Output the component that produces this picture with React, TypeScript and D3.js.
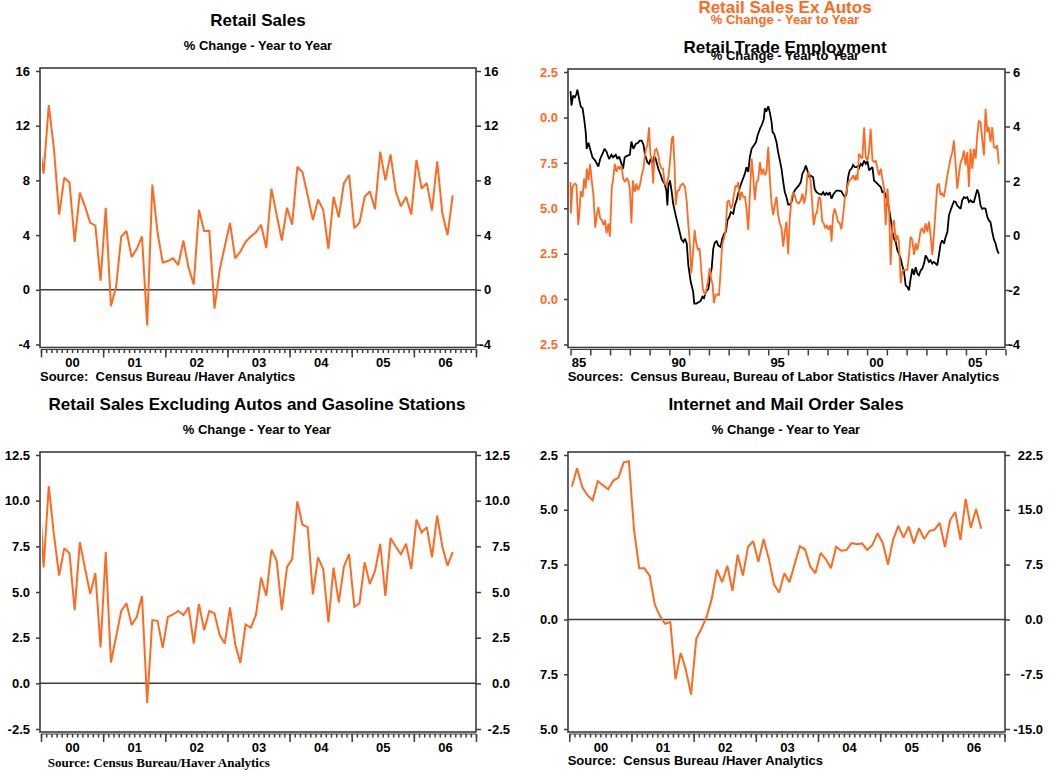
import React, { useEffect, useRef } from "react";
import * as d3 from "d3";

const ORANGE = "#ff6a21";
const AXIS = "#3c3c3c";
const SANS = "'Liberation Sans', Arial, Helvetica, sans-serif";
const SERIF = "'Liberation Serif', 'Times New Roman', serif";

// monthly % change y/y; first value is Dec 1999 (cut off by the frame), then Jan 2000 .. Aug 2006
const retailSales = [
  11.3, 8.5, 13.5, 10.3, 5.5, 8.2, 7.85, 3.5, 7.1, 6.1, 4.9,
  4.7, 0.66, 6.0, -1.2, 0.2, 3.9, 4.3, 2.4, 3.0, 3.9,
  -2.6, 7.7, 4.2, 2.0, 2.1, 2.3, 1.8, 3.6, 1.6, 0.4,
  5.85, 4.3, 4.3, -1.37, 1.46, 3.2, 4.9, 2.3, 2.8, 3.5,
  3.9, 4.2, 4.76, 3.05, 7.4, 5.5, 3.6, 6.0, 4.76, 9.0,
  8.6, 6.9, 5.1, 6.6, 5.85, 3.0, 6.8, 5.3, 7.8, 8.4,
  4.5, 4.9, 6.8, 7.2, 5.9, 10.1, 8.0, 9.9, 7.2, 6.1,
  6.8, 5.5, 9.5, 7.4, 7.8, 5.8, 9.4, 5.6, 4.0, 6.9,
];

const retailExAutosGas = [
  11.5, 6.34, 10.8, 8.13, 5.9, 7.4, 7.12, 4.0, 7.73, 6.3, 4.9,
  6.03, 1.96, 7.18, 1.14, 2.55, 3.96, 4.38, 3.19, 3.64, 4.78,
  -1.08, 3.46, 3.42, 1.94, 3.64, 3.77, 3.96, 3.74, 4.16, 2.18,
  4.34, 2.91, 3.96, 3.83, 2.64, 2.18, 4.16, 2.14, 1.12, 3.22,
  3.04, 3.74, 5.79, 4.8, 7.31, 6.72, 4.01, 6.36, 6.8, 9.96,
  8.68, 8.55, 4.87, 6.9, 6.25, 3.33, 6.34, 4.43, 6.39, 7.07,
  4.19, 4.38, 6.63, 5.44, 6.15, 7.64, 4.78, 7.95, 7.49, 7.07,
  7.64, 6.26, 8.96, 8.26, 8.55, 6.9, 9.18, 7.49, 6.45, 7.18,
];

// Jan 2000 .. Aug 2006
const internetMailOrder = [
  18.2, 20.7, 18.1, 17.0, 16.3, 18.9, 18.35, 17.8, 19.0, 19.4,
  21.5, 21.65, 12.2, 7.0, 7.0, 6.0, 2.06, 0.46, -0.6, -0.37,
  -8.2, -4.6, -6.9, -10.3, -2.66, -1.28, 0.37, 2.84, 6.8, 5.1,
  7.34, 3.9, 8.85, 6.0, 9.95, 10.7, 7.9, 11.0, 8.35, 4.8,
  3.67, 6.3, 5.1, 7.57, 10.0, 9.6, 7.25, 6.3, 9.1, 8.26,
  7.0, 9.95, 9.4, 9.5, 10.46, 10.3, 10.4, 9.5, 10.2, 11.8,
  10.46, 7.5, 10.9, 12.8, 11.2, 12.7, 10.4, 12.5, 11.0, 12.1,
  12.3, 13.2, 9.95, 13.6, 14.7, 10.9, 16.5, 12.5, 15.1, 12.4,
];

// [year, % change y/y]
const retailTradeEmployment: [number, number][] = [
  [1985.0, 5.3], [1985.05, 4.77], [1985.13, 5.13], [1985.22, 5.07], [1985.3, 5.19], [1985.35, 5.35],
  [1985.44, 5.0], [1985.52, 4.73], [1985.61, 4.67], [1985.69, 4.28], [1985.77, 3.79], [1985.82, 3.18],
  [1985.91, 3.4], [1985.99, 3.18], [1986.11, 2.87], [1986.25, 2.75], [1986.41, 2.53], [1986.5, 2.81],
  [1986.62, 3.0], [1986.72, 3.18], [1986.82, 3.08], [1986.95, 2.81], [1987.07, 2.96], [1987.15, 2.87],
  [1987.29, 2.96], [1987.37, 2.81], [1987.46, 2.9], [1987.54, 2.72], [1987.66, 2.45], [1987.74, 2.87],
  [1987.88, 2.93], [1988.0, 2.96], [1988.08, 3.45], [1988.18, 3.18], [1988.3, 3.36], [1988.42, 3.4],
  [1988.5, 3.48], [1988.6, 3.48], [1988.69, 3.33], [1988.77, 2.96], [1988.89, 2.69], [1988.97, 2.63],
  [1989.06, 2.81], [1989.14, 2.63], [1989.23, 2.9], [1989.31, 2.81], [1989.44, 2.45], [1989.56, 2.23],
  [1989.65, 2.02], [1989.76, 1.9], [1989.85, 1.65], [1989.9, 1.1], [1989.95, 1.84], [1990.03, 2.02],
  [1990.12, 1.6], [1990.19, 1.17], [1990.32, 0.74], [1990.44, 0.37], [1990.52, 0.13], [1990.61, -0.14],
  [1990.71, -0.24], [1990.79, -0.11], [1990.88, -0.3], [1990.96, -1.1], [1991.08, -1.7], [1991.2, -2.05],
  [1991.26, -2.5], [1991.36, -2.5], [1991.5, -2.44], [1991.58, -2.4], [1991.67, -2.25], [1991.75, -2.3],
  [1991.84, -2.07], [1991.97, -1.97], [1992.09, -1.34], [1992.14, -1.22], [1992.22, -0.48], [1992.3, -0.26],
  [1992.39, -0.21], [1992.47, -0.36], [1992.59, -0.42], [1992.67, -0.13], [1992.78, 0.07], [1992.86, 0.13],
  [1992.94, 0.56], [1993.03, 0.68], [1993.11, 0.86], [1993.23, 0.8], [1993.31, 1.1], [1993.4, 1.29],
  [1993.48, 1.53], [1993.57, 1.78], [1993.69, 2.02], [1993.82, 2.27], [1993.9, 2.51], [1993.99, 2.33],
  [1994.07, 2.88], [1994.16, 3.18], [1994.27, 3.3], [1994.38, 3.42], [1994.46, 3.67], [1994.58, 3.91],
  [1994.7, 4.1], [1994.78, 4.28], [1994.83, 4.67], [1994.91, 4.55], [1995.0, 4.74], [1995.08, 4.52],
  [1995.17, 4.16], [1995.22, 3.79], [1995.3, 3.73], [1995.42, 3.42], [1995.5, 3.06], [1995.59, 2.75],
  [1995.67, 2.45], [1995.76, 1.96], [1995.84, 1.59], [1995.92, 1.41], [1996.01, 1.13], [1996.09, 1.13],
  [1996.18, 1.23], [1996.26, 1.53], [1996.34, 1.65], [1996.43, 1.74], [1996.55, 1.84], [1996.65, 1.96],
  [1996.73, 2.27], [1996.82, 2.39], [1996.9, 2.57], [1996.98, 2.39], [1997.07, 2.14], [1997.15, 2.2],
  [1997.27, 2.14], [1997.35, 1.71], [1997.44, 1.59], [1997.56, 1.53], [1997.69, 1.5], [1997.78, 1.59],
  [1997.86, 1.47], [1997.94, 1.56], [1998.03, 1.5], [1998.11, 1.59], [1998.2, 1.35], [1998.31, 1.53],
  [1998.45, 1.65], [1998.57, 1.65], [1998.7, 1.62], [1998.79, 1.5], [1998.87, 1.41], [1998.95, 1.5],
  [1999.04, 2.14], [1999.12, 2.39], [1999.21, 2.45], [1999.29, 2.59], [1999.38, 2.51], [1999.46, 2.51],
  [1999.51, 2.54], [1999.59, 2.47], [1999.68, 2.63], [1999.76, 2.57], [1999.85, 2.75], [1999.93, 2.63],
  [2000.02, 2.72], [2000.1, 2.39], [2000.18, 2.45], [2000.27, 2.51], [2000.35, 2.02], [2000.44, 1.96],
  [2000.52, 1.9], [2000.6, 1.84], [2000.69, 1.78], [2000.77, 1.59], [2000.86, 1.62], [2000.94, 1.47],
  [2001.03, 1.23], [2001.11, 1.0], [2001.19, 0.61], [2001.28, 0.13], [2001.36, -0.12], [2001.45, -0.24],
  [2001.53, -0.54], [2001.61, -0.67], [2001.7, -0.85], [2001.78, -1.1], [2001.87, -1.34], [2001.95, -1.83],
  [2002.04, -1.89], [2002.12, -2.01], [2002.2, -1.59], [2002.29, -1.22], [2002.37, -1.44], [2002.46, -1.16],
  [2002.54, -1.4], [2002.62, -1.46], [2002.71, -1.28], [2002.79, -1.22], [2002.88, -1.03], [2002.96, -0.73],
  [2003.05, -0.85], [2003.13, -0.97], [2003.21, -0.91], [2003.3, -1.03], [2003.38, -0.97], [2003.47, -1.03],
  [2003.55, -1.1], [2003.63, -0.73], [2003.72, -0.3], [2003.8, -0.18], [2003.89, -0.3], [2003.97, -0.06],
  [2004.06, 0.13], [2004.14, 0.74], [2004.22, 0.92], [2004.31, 1.1], [2004.39, 1.25], [2004.48, 1.23],
  [2004.56, 1.1], [2004.64, 1.04], [2004.73, 0.98], [2004.81, 1.29], [2004.9, 1.41], [2004.98, 1.37],
  [2005.07, 1.41], [2005.15, 1.23], [2005.23, 1.29], [2005.32, 1.23], [2005.4, 1.23], [2005.49, 1.47],
  [2005.57, 1.69], [2005.65, 1.53], [2005.74, 1.1], [2005.82, 0.98], [2005.91, 1.0], [2005.99, 0.98],
  [2006.08, 0.68], [2006.16, 0.56], [2006.24, 0.49], [2006.33, 0.13], [2006.41, -0.14], [2006.5, -0.3],
  [2006.58, -0.54], [2006.66, -0.67],
];

const retailSalesExAutos: [number, number][] = [
  [1985.0, 6.45], [1985.02, 4.71], [1985.1, 6.17], [1985.22, 6.36], [1985.3, 6.3], [1985.39, 4.07],
  [1985.44, 4.62], [1985.52, 5.94], [1985.61, 5.63], [1985.69, 6.63], [1985.77, 6.08], [1985.82, 7.18],
  [1985.91, 6.54], [1985.99, 7.45], [1986.08, 6.45], [1986.16, 5.72], [1986.25, 3.93], [1986.33, 4.62],
  [1986.41, 5.08], [1986.5, 4.44], [1986.58, 4.35], [1986.67, 4.07], [1986.75, 4.35], [1986.82, 3.62],
  [1986.92, 4.16], [1986.99, 3.43], [1987.09, 6.17], [1987.15, 6.54], [1987.24, 7.45], [1987.32, 7.0],
  [1987.41, 7.27], [1987.49, 7.18], [1987.58, 7.36], [1987.66, 6.63], [1987.76, 6.45], [1987.85, 6.67],
  [1987.93, 6.48], [1988.0, 6.08], [1988.08, 4.16], [1988.16, 6.54], [1988.25, 5.9], [1988.33, 6.36],
  [1988.42, 5.99], [1988.5, 6.23], [1988.6, 6.81], [1988.69, 7.18], [1988.75, 7.82], [1988.82, 8.27],
  [1988.89, 8.46], [1988.97, 9.46], [1989.04, 7.95], [1989.11, 7.73], [1989.18, 6.36], [1989.26, 8.18],
  [1989.34, 8.27], [1989.43, 8.0], [1989.51, 7.45], [1989.6, 7.18], [1989.68, 7.18], [1989.76, 6.36],
  [1989.85, 6.26], [1989.95, 6.72], [1990.03, 7.54], [1990.12, 8.82], [1990.19, 8.97], [1990.27, 7.18],
  [1990.32, 5.17], [1990.4, 5.94], [1990.49, 5.99], [1990.57, 6.26], [1990.69, 6.36], [1990.79, 6.17],
  [1990.88, 5.35], [1990.96, 4.07], [1991.03, 3.16], [1991.11, 1.42], [1991.2, 2.61], [1991.28, 3.8],
  [1991.36, 3.07], [1991.45, 2.7], [1991.53, 2.79], [1991.62, 1.52], [1991.7, 0.51], [1991.8, 0.24],
  [1991.87, 0.51], [1991.95, 0.97], [1992.04, 1.7], [1992.12, 1.06], [1992.19, 0.79], [1992.25, -0.22],
  [1992.34, 0.24], [1992.42, 0.27], [1992.51, 0.2], [1992.59, 1.52], [1992.67, 2.98], [1992.76, 3.34],
  [1992.84, 3.71], [1992.93, 5.35], [1993.01, 5.44], [1993.1, 4.99], [1993.18, 5.13], [1993.26, 5.72],
  [1993.35, 6.26], [1993.43, 6.17], [1993.48, 6.45], [1993.57, 5.44], [1993.65, 5.9], [1993.74, 5.63],
  [1993.82, 5.63], [1993.9, 4.99], [1993.99, 3.8], [1994.07, 5.72], [1994.16, 7.73], [1994.24, 6.81],
  [1994.32, 5.44], [1994.41, 6.45], [1994.49, 6.54], [1994.58, 7.54], [1994.66, 6.85], [1994.75, 7.18],
  [1994.83, 6.81], [1994.91, 7.0], [1995.0, 8.37], [1995.08, 6.63], [1995.17, 5.26], [1995.25, 4.62],
  [1995.33, 5.17], [1995.42, 5.63], [1995.5, 4.62], [1995.59, 4.16], [1995.67, 3.93], [1995.76, 2.89],
  [1995.84, 3.71], [1995.92, 4.26], [1996.01, 2.47], [1996.09, 4.44], [1996.18, 5.53], [1996.26, 5.9],
  [1996.34, 5.72], [1996.43, 5.35], [1996.55, 5.26], [1996.65, 5.44], [1996.73, 5.81], [1996.82, 5.26],
  [1996.9, 5.72], [1996.98, 6.81], [1997.05, 7.0], [1997.14, 6.54], [1997.22, 5.35], [1997.3, 4.07],
  [1997.39, 4.62], [1997.47, 4.8], [1997.56, 5.63], [1997.64, 5.53], [1997.73, 4.26], [1997.81, 4.16],
  [1997.89, 3.89], [1997.98, 4.07], [1998.06, 3.8], [1998.15, 4.07], [1998.2, 3.16], [1998.28, 4.62],
  [1998.36, 4.99], [1998.45, 4.62], [1998.53, 4.26], [1998.62, 4.16], [1998.7, 3.85], [1998.79, 4.62],
  [1998.87, 5.53], [1998.95, 5.9], [1999.04, 6.36], [1999.12, 6.54], [1999.21, 6.63], [1999.29, 6.81],
  [1999.38, 6.54], [1999.46, 6.85], [1999.51, 6.54], [1999.59, 8.0], [1999.68, 7.82], [1999.76, 7.73],
  [1999.85, 9.46], [1999.93, 7.82], [2000.02, 7.63], [2000.1, 8.18], [2000.18, 9.37], [2000.27, 7.63],
  [2000.35, 7.54], [2000.44, 7.63], [2000.52, 7.18], [2000.6, 6.81], [2000.69, 7.18], [2000.77, 6.63],
  [2000.86, 6.08], [2000.94, 4.07], [2001.03, 6.08], [2001.11, 4.99], [2001.19, 1.88], [2001.28, 4.07],
  [2001.36, 4.35], [2001.45, 3.16], [2001.53, 3.53], [2001.61, 3.16], [2001.7, 0.88], [2001.78, 1.52],
  [2001.87, 1.61], [2001.95, 1.61], [2002.04, 1.61], [2002.12, 2.43], [2002.2, 3.43], [2002.29, 3.25],
  [2002.37, 2.43], [2002.46, 3.07], [2002.54, 2.7], [2002.62, 3.16], [2002.71, 3.8], [2002.79, 3.89],
  [2002.88, 3.62], [2002.96, 4.16], [2003.05, 3.71], [2003.13, 4.26], [2003.21, 3.53], [2003.3, 2.43],
  [2003.38, 3.53], [2003.47, 4.99], [2003.55, 6.26], [2003.63, 6.36], [2003.72, 5.72], [2003.8, 5.81],
  [2003.89, 5.63], [2003.97, 6.17], [2004.06, 6.81], [2004.14, 7.27], [2004.22, 7.73], [2004.31, 8.09],
  [2004.39, 8.73], [2004.48, 7.36], [2004.56, 6.08], [2004.64, 6.81], [2004.73, 7.54], [2004.81, 7.73],
  [2004.9, 8.18], [2004.98, 7.36], [2005.07, 8.09], [2005.15, 6.17], [2005.23, 8.27], [2005.32, 7.18],
  [2005.4, 8.27], [2005.49, 7.73], [2005.57, 9.0], [2005.65, 9.83], [2005.74, 9.73], [2005.82, 8.82],
  [2005.91, 7.91], [2005.99, 10.47], [2006.08, 9.19], [2006.16, 9.46], [2006.24, 8.64], [2006.33, 9.46],
  [2006.41, 8.37], [2006.5, 8.31], [2006.58, 8.46], [2006.66, 7.45],
];

const shortYearLabels = ["00", "01", "02", "03", "04", "05", "06"];
const longYearLabels = ["85", "90", "95", "00", "05"];

const monthly = (vals: number[], firstMonth: number): [number, number][] =>
  vals.map((v, i) => [firstMonth + (i + 0.5) / 12, v]);

type AxisSpec = { domain: [number, number]; ticks: number[]; digits: number; color: string };

type PanelSpec = {
  id: string;
  frame: { left: number; right: number; top: number; bottom: number };
  xDomain: [number, number];
  xRange: [number, number];
  monthlyTicks: boolean;
  xLabels: string[];
  xLabelAt: number[];
  titleX: number;
  titles: { text: string; y: number; size: number; color: string }[];
  left: AxisSpec;
  right: AxisSpec;
  rightEnd?: number;
  clipLabelsFrom?: number;
  zeroLine: boolean;
  lineClipFrom: number;
  lines: { points: [number, number][]; color: string; width: number; onRight?: boolean }[];
  source: { text: string; x: number; y: number; serif?: boolean };
};

const styleAxis = (sel: any) => {
  sel.select(".domain").remove();
  sel.selectAll("line").attr("stroke", AXIS).attr("stroke-width", 1.5);
  sel.selectAll("text")
    .attr("font-family", SANS)
    .attr("font-size", 13)
    .attr("font-weight", "bold");
};

function drawPanel(svg: any, p: PanelSpec) {
  const { left, right, top, bottom } = p.frame;
  const g = svg.append("g");

  const x = d3.scaleLinear().domain(p.xDomain).range(p.xRange);
  const yL = d3.scaleLinear().domain(p.left.domain).range([bottom - 3, top + 3]);
  const yR = d3.scaleLinear().domain(p.right.domain).range([bottom - 3, top + 3]);

  const defs = g.append("defs");
  defs.append("clipPath").attr("id", `${p.id}-plot`)
    .append("rect")
    .attr("x", p.lineClipFrom).attr("y", top)
    .attr("width", right - p.lineClipFrom).attr("height", bottom - top);
  if (p.clipLabelsFrom !== undefined) {
    defs.append("clipPath").attr("id", `${p.id}-lab`)
      .append("rect")
      .attr("x", p.clipLabelsFrom).attr("y", top - 20)
      .attr("width", left - p.clipLabelsFrom + 2).attr("height", bottom - top + 40);
  }

  p.titles.forEach(t => {
    g.append("text")
      .attr("x", p.titleX).attr("y", t.y)
      .attr("text-anchor", "middle")
      .attr("font-family", SANS).attr("font-size", t.size).attr("font-weight", "bold")
      .attr("fill", t.color)
      .text(t.text);
  });

  // left axis (wrapped so the clip rect is in page coordinates)
  const laWrap = g.append("g");
  if (p.clipLabelsFrom !== undefined) laWrap.attr("clip-path", `url(#${p.id}-lab)`);
  const la = laWrap.append("g")
    .attr("transform", `translate(${left},0)`)
    .call(d3.axisLeft(yL).tickValues(p.left.ticks).tickSize(4).tickPadding(6)
      .tickFormat((d: any) => (+d).toFixed(p.left.digits)));
  styleAxis(la);
  la.selectAll("text").attr("fill", p.left.color);

  // right axis
  const ra = g.append("g")
    .attr("transform", `translate(${right},0)`)
    .call(d3.axisRight(yR).tickValues(p.right.ticks).tickSize(5).tickPadding(3)
      .tickFormat((d: any) => (+d).toFixed(p.right.digits)));
  styleAxis(ra);
  ra.selectAll("text").attr("fill", p.right.color);
  if (p.rightEnd !== undefined) {
    ra.selectAll("text").attr("text-anchor", "end").attr("x", p.rightEnd - right);
  } else {
    ra.selectAll("text").attr("x", (d: any) => (d < 0 ? 3.5 : 8));
  }

  // x axis: its own base line just under the frame, ticks hanging from it
  const [x0, x1] = p.xDomain;
  const axisY = bottom + 2;
  const xa = g.append("g").attr("transform", `translate(0,${axisY})`);
  xa.append("line")
    .attr("x1", x(x0)).attr("x2", x(x1))
    .attr("stroke", AXIS).attr("stroke-width", 1.2);
  if (p.monthlyTicks) {
    const minor = d3.range(x0 * 12, x1 * 12 + 1).map(m => m / 12);
    styleAxis(xa.append("g").call(d3.axisBottom(x).tickValues(minor).tickSize(3.5).tickFormat(() => "")));
  }
  styleAxis(xa.append("g").call(
    d3.axisBottom(x).tickValues(d3.range(x0, x1 + 1)).tickSize(p.monthlyTicks ? 8 : 6).tickFormat(() => "")));
  const labels = xa.append("g").call(
    d3.axisBottom(x).tickValues(p.xLabelAt).tickSize(0).tickPadding(8.5)
      .tickFormat((_: any, i: number) => p.xLabels[i]));
  styleAxis(labels);
  labels.selectAll("text").attr("fill", "#000");

  // frame
  g.append("rect")
    .attr("x", left).attr("y", top)
    .attr("width", right - left).attr("height", bottom - top)
    .attr("fill", "none").attr("stroke", AXIS).attr("stroke-width", 1.6);

  if (p.zeroLine) {
    g.append("line")
      .attr("x1", left).attr("x2", right)
      .attr("y1", yL(0)).attr("y2", yL(0))
      .attr("stroke", AXIS).attr("stroke-width", 1.5);
  }

  const plot = g.append("g").attr("clip-path", `url(#${p.id}-plot)`);
  p.lines.forEach(l => {
    const y = l.onRight ? yR : yL;
    const line = d3.line<[number, number]>().x(d => x(d[0])).y(d => y(d[1]));
    plot.append("path")
      .datum(l.points)
      .attr("d", line)
      .attr("fill", "none")
      .attr("stroke", l.color)
      .attr("stroke-width", l.width)
      .attr("stroke-linejoin", "miter")
      .attr("stroke-miterlimit", 2);
  });

  g.append("text")
    .attr("x", p.source.x).attr("y", p.source.y)
    .attr("font-family", p.source.serif ? SERIF : SANS)
    .attr("font-size", 13).attr("font-weight", "bold")
    .style("white-space", "pre")
    .text(p.source.text);
}

const App = () => {
  const svgRef = useRef<SVGSVGElement>(null);

  useEffect(() => {
    const svg = d3.select(svgRef.current);
    svg.selectAll("*").remove();

    const sub = "% Change - Year to Year";
    const midYears = shortYearLabels.map((_, i) => 2000.5 + i);

    const panels: PanelSpec[] = [
      {
        id: "rs",
        frame: { left: 40, right: 476, top: 68, bottom: 347.5 },
        xDomain: [2000, 2007], xRange: [41, 476],
        monthlyTicks: true, xLabels: shortYearLabels, xLabelAt: midYears,
        titleX: 258,
        titles: [
          { text: "Retail Sales", y: 26, size: 17, color: "#000" },
          { text: sub, y: 50, size: 13, color: "#000" },
        ],
        left: { domain: [-4, 16], ticks: [-4, 0, 4, 8, 12, 16], digits: 0, color: "#000" },
        right: { domain: [-4, 16], ticks: [-4, 0, 4, 8, 12, 16], digits: 0, color: "#000" },
        zeroLine: true,
        lineClipFrom: 42,
        lines: [{ points: monthly(retailSales, 2000 - 1 / 12), color: ORANGE, width: 2 }],
        source: { text: "Source:  Census Bureau /Haver Analytics", x: 40, y: 381 },
      },
      {
        id: "emp",
        frame: { left: 568, right: 1005, top: 69, bottom: 347.5 },
        xDomain: [1985, 2007], xRange: [570.5, 1005.5],
        monthlyTicks: false, xLabels: longYearLabels, xLabelAt: [1985.4, 1990.45, 1995.45, 2000.45, 2005.45],
        titleX: 785,
        titles: [
          { text: "Retail Sales Ex Autos", y: 12.5, size: 17, color: ORANGE },
          { text: sub, y: 23.5, size: 13, color: ORANGE },
          { text: "Retail Trade Employment", y: 52.5, size: 17, color: "#000" },
          { text: sub, y: 60, size: 13, color: "#000" },
        ],
        left: { domain: [-2.5, 12.5], ticks: [-2.5, 0, 2.5, 5, 7.5, 10, 12.5], digits: 1, color: ORANGE },
        right: { domain: [-4, 6], ticks: [-4, -2, 0, 2, 4, 6], digits: 0, color: "#000" },
        clipLabelsFrom: 539.5,
        zeroLine: false,
        lineClipFrom: 569,
        lines: [
          { points: retailTradeEmployment, color: "#000", width: 1.8, onRight: true },
          { points: retailSalesExAutos, color: ORANGE, width: 1.8 },
        ],
        source: {
          text: "Sources:  Census Bureau, Bureau of Labor Statistics /Haver Analytics",
          x: 567.7, y: 381,
        },
      },
      {
        id: "exgas",
        frame: { left: 40, right: 476, top: 452, bottom: 732 },
        xDomain: [2000, 2007], xRange: [41, 476],
        monthlyTicks: true, xLabels: shortYearLabels, xLabelAt: midYears,
        titleX: 257,
        titles: [
          { text: "Retail Sales Excluding Autos and Gasoline Stations", y: 410, size: 17, color: "#000" },
          { text: sub, y: 434, size: 13, color: "#000" },
        ],
        left: { domain: [-2.5, 12.5], ticks: [-2.5, 0, 2.5, 5, 7.5, 10, 12.5], digits: 1, color: "#000" },
        right: { domain: [-2.5, 12.5], ticks: [-2.5, 0, 2.5, 5, 7.5, 10, 12.5], digits: 1, color: "#000" },
        rightEnd: 510,
        zeroLine: true,
        lineClipFrom: 42,
        lines: [{ points: monthly(retailExAutosGas, 2000 - 1 / 12), color: ORANGE, width: 2 }],
        source: { text: "Source: Census Bureau/Haver Analytics", x: 47.7, y: 767, serif: true },
      },
      {
        id: "web",
        frame: { left: 568, right: 1005, top: 452, bottom: 732 },
        xDomain: [2000, 2007], xRange: [569.3, 1004.5],
        monthlyTicks: true, xLabels: shortYearLabels, xLabelAt: midYears,
        titleX: 786,
        titles: [
          { text: "Internet and Mail Order Sales", y: 410, size: 17, color: "#000" },
          { text: sub, y: 434, size: 13, color: "#000" },
        ],
        left: { domain: [-15, 22.5], ticks: [-15, -7.5, 0, 7.5, 15, 22.5], digits: 1, color: "#000" },
        right: { domain: [-15, 22.5], ticks: [-15, -7.5, 0, 7.5, 15, 22.5], digits: 1, color: "#000" },
        rightEnd: 1043,
        clipLabelsFrom: 539.5,
        zeroLine: true,
        lineClipFrom: 569,
        lines: [{ points: monthly(internetMailOrder, 2000), color: ORANGE, width: 2 }],
        source: { text: "Source:  Census Bureau /Haver Analytics", x: 567.7, y: 765 },
      },
    ];

    panels.forEach(p => drawPanel(svg, p));
  }, []);

  return (
    <svg
      ref={svgRef}
      width={1050}
      height={770}
      style={{ position: "absolute", left: 0, top: 0, background: "#fff" }}
    />
  );
};

export default App;
